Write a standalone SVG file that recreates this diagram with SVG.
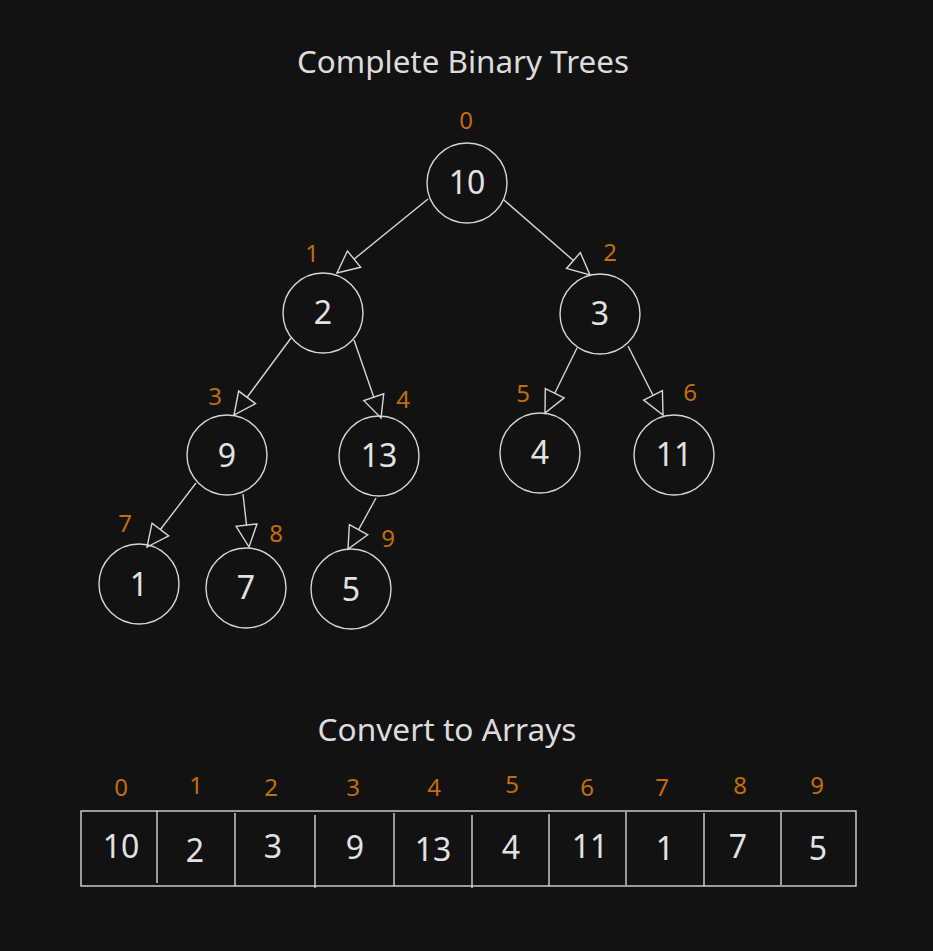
<svg xmlns="http://www.w3.org/2000/svg" width="933" height="951" viewBox="0 0 933 951">
<style>
.bg{fill:#121212}
.title{font-family:"Noto Sans","Open Sans",sans-serif;font-size:30px;fill:#dcdcdc;text-anchor:middle}
.nd circle{fill:none;stroke:#d6d6d6;stroke-width:1.4}
.nd text,.val{font-family:"Noto Sans","Open Sans",sans-serif;font-size:32px;fill:#e2e2e2;text-anchor:middle}
.idx{font-family:"Noto Sans","Open Sans",sans-serif;font-size:24px;fill:#c56d05;text-anchor:middle}
.edge{fill:none;stroke:#d6d6d6;stroke-width:1.4;marker-end:url(#arr)}
.cell{fill:none;stroke:#d6d6d6;stroke-width:1.4}
</style>
<defs>
<marker id="arr" markerUnits="userSpaceOnUse" viewBox="0 0 26 24" markerWidth="26" markerHeight="24" refX="24" refY="12" orient="auto">
<path d="M2,1.5 L24,12 L2,22.5 Z" fill="#121212" stroke="#d6d6d6" stroke-width="1.4" stroke-linejoin="miter"/>
</marker>
</defs>
<rect class="bg" x="0" y="0" width="933" height="951"/>
<text class="title" x="463" y="73" textLength="332" lengthAdjust="spacingAndGlyphs">Complete Binary Trees</text>
<g id="connectors">
<line class="edge" x1="428" y1="199" x2="337" y2="273"/>
<line class="edge" x1="504" y1="200" x2="590" y2="275"/>
<line class="edge" x1="291" y1="338" x2="234" y2="415"/>
<line class="edge" x1="354" y1="340" x2="381" y2="418"/>
<line class="edge" x1="577" y1="348" x2="545" y2="413"/>
<line class="edge" x1="628" y1="346" x2="663" y2="415"/>
<line class="edge" x1="196" y1="483" x2="147" y2="547"/>
<line class="edge" x1="243" y1="494" x2="249" y2="547"/>
<line class="edge" x1="376" y1="498" x2="348" y2="549"/>
</g>
<g id="n0" class="nd"><circle cx="467" cy="183" r="40"/><text x="467" y="194">10</text></g>
<g id="n1" class="nd"><circle cx="323" cy="313" r="40"/><text x="323" y="324">2</text></g>
<g id="n2" class="nd"><circle cx="600" cy="314" r="40"/><text x="600" y="325">3</text></g>
<g id="n3" class="nd"><circle cx="227" cy="455" r="40"/><text x="227" y="467">9</text></g>
<g id="n4" class="nd"><circle cx="379" cy="456" r="40"/><text x="379" y="467">13</text></g>
<g id="n5" class="nd"><circle cx="540" cy="453" r="40"/><text x="540" y="464">4</text></g>
<g id="n6" class="nd"><circle cx="674" cy="455" r="40"/><text x="674" y="466">11</text></g>
<g id="n7" class="nd"><circle cx="139" cy="584" r="40"/><text x="139" y="596">1</text></g>
<g id="n8" class="nd"><circle cx="246" cy="588" r="40"/><text x="246" y="599">7</text></g>
<g id="n9" class="nd"><circle cx="351" cy="589" r="40"/><text x="351" y="601">5</text></g>
<g id="tree-indices">
<text class="idx" x="466" y="129">0</text>
<text class="idx" x="312" y="262">1</text>
<text class="idx" x="610" y="261">2</text>
<text class="idx" x="215" y="405">3</text>
<text class="idx" x="403" y="408">4</text>
<text class="idx" x="523" y="402">5</text>
<text class="idx" x="690" y="401">6</text>
<text class="idx" x="125" y="532">7</text>
<text class="idx" x="276" y="542">8</text>
<text class="idx" x="388" y="547">9</text>
</g>
<text class="title" x="447" y="741" textLength="259" lengthAdjust="spacingAndGlyphs">Convert to Arrays</text>
<g id="array">
<rect class="cell" x="81" y="811" width="775" height="75"/>
<line class="cell" x1="157" y1="811" x2="157" y2="883"/>
<line class="cell" x1="235" y1="813" x2="235" y2="886"/>
<line class="cell" x1="315" y1="815" x2="315" y2="888"/>
<line class="cell" x1="394" y1="813" x2="394" y2="886"/>
<line class="cell" x1="472" y1="815" x2="472" y2="888"/>
<line class="cell" x1="549" y1="814" x2="549" y2="886"/>
<line class="cell" x1="626" y1="812" x2="626" y2="885"/>
<line class="cell" x1="704" y1="813" x2="704" y2="886"/>
<line class="cell" x1="781" y1="812" x2="781" y2="885"/>
<text class="val" x="121" y="858">10</text>
<text class="val" x="195" y="862">2</text>
<text class="val" x="273" y="858">3</text>
<text class="val" x="355" y="859">9</text>
<text class="val" x="433" y="861">13</text>
<text class="val" x="511" y="859">4</text>
<text class="val" x="590" y="858">11</text>
<text class="val" x="665" y="860">1</text>
<text class="val" x="738" y="858">7</text>
<text class="val" x="818" y="860">5</text>
</g>
<g id="array-indices">
<text class="idx" x="121" y="796">0</text>
<text class="idx" x="196" y="794">1</text>
<text class="idx" x="271" y="796">2</text>
<text class="idx" x="353" y="796">3</text>
<text class="idx" x="434" y="796">4</text>
<text class="idx" x="512" y="793">5</text>
<text class="idx" x="587" y="796">6</text>
<text class="idx" x="662" y="796">7</text>
<text class="idx" x="740" y="794">8</text>
<text class="idx" x="817" y="794">9</text>
</g>
</svg>
